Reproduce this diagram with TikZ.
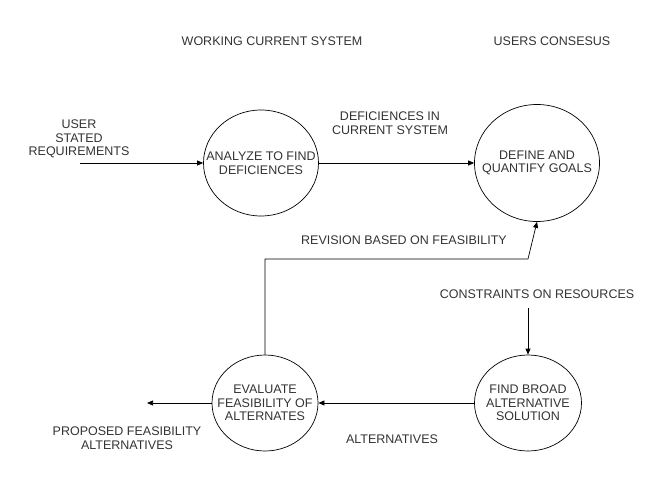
\documentclass[tikz,border=0pt]{standalone}
\usepackage{fontspec}
\setmainfont{Liberation Sans}
\usepackage{tikz}
\usetikzlibrary{arrows.meta, shapes.geometric}

\begin{document}
\begin{tikzpicture}[x=1pt, y=-1pt, >={Triangle[length=6pt, width=5pt]},
    proc/.style={ellipse, draw, line width=0.7pt, inner xsep=-20pt, inner ysep=0pt,
      align=center, text=black!80, font=\fontsize{12.5}{13.5}\selectfont},
    lbl/.style={align=center, text=black!80, font=\fontsize{12.5}{13.5}\selectfont}]
  \useasboundingbox (0,0) rectangle (653,484);

  % Processes
  \node[proc, minimum width=115, minimum height=106] (A) at (261,163) {ANALYZE TO FIND\\DEFICIENCES};
  \node[proc, minimum width=125, minimum height=117] (D) at (537,163) {DEFINE AND\\QUANTIFY GOALS};
  \node[proc, minimum width=106, minimum height=96]  (E) at (265,403) {EVALUATE\\FEASIBILITY OF\\ALTERNATES};
  \node[proc, minimum width=107, minimum height=96]  (F) at (528,403) {FIND BROAD\\ALTERNATIVE\\SOLUTION};

  % Labels
  \node[lbl] (wcs) at (272,41)  {WORKING CURRENT SYSTEM};
  \node[lbl] (uc)  at (552,41)  {USERS CONSESUS};
  \node[lbl] (usr) at (79,139)  {USER\\STATED\\REQUIREMENTS};
  \node[lbl] (def) at (390,123) {DEFICIENCES IN\\CURRENT SYSTEM};
  \node[lbl] (rev) at (404,240) {REVISION BASED ON FEASIBILITY};
  \node[lbl] (con) at (537,294) {CONSTRAINTS ON RESOURCES};
  \node[lbl] (alt) at (392,439) {ALTERNATIVES};
  \node[lbl] (pro) at (127,438) {PROPOSED FEASIBILITY\\ALTERNATIVES};

  % Free ends and corners
  \coordinate (in)  at (80,163);
  \coordinate (out) at (147,403);
  \coordinate (r1)  at (265,259);
  \coordinate (r2)  at (528,259);
  \coordinate (c1)  at (528,308);

  % Flows
  \draw[->, line width=0.7pt] (in) -- (A.west);
  \draw[->, line width=0.7pt] (A.east) -- (D.west);
  \draw[->, line width=0.7pt] (c1) -- (F.north);
  \draw[->, line width=0.7pt] (F.west) -- (E.east);
  \draw[->, line width=0.7pt] (E.west) -- (out);
  \draw[->, line width=0.7pt] (E.north) -- (r1) -- (r2) -- (D.south);

\end{tikzpicture}
\end{document}
